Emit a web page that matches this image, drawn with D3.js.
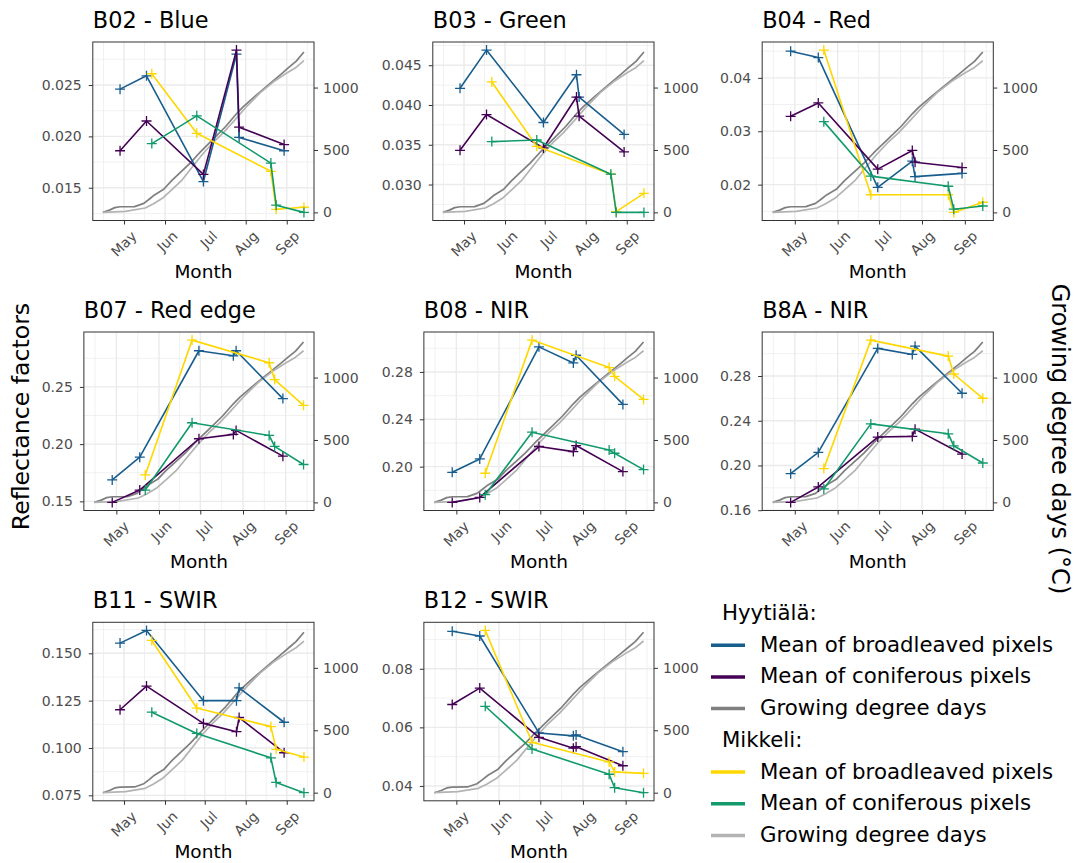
<!DOCTYPE html>
<html>
<head>
<meta charset="utf-8">
<script src="https://cdn.jsdelivr.net/npm/d3@7"></script>
<style>
  body { margin: 0; background: #fff; }
  svg { display: block; font-family: "DejaVu Sans", sans-serif; }
</style>
</head>
<body>
<svg id="chart" width="1076" height="863"></svg>
<script>
// ---- data ----
const bandNames = ["B02 - Blue", "B03 - Green", "B04 - Red", "B07 - Red edge", "B08 - NIR", "B8A - NIR", "B11 - SWIR", "B12 - SWIR"];

const hyyDates = ["04-28", "05-18", "06-30", "07-25", "07-27", "08-30"];
const mikDates = ["05-22", "06-25", "08-20", "08-24", "09-14"];

// Hyytiälä, mean of broadleaved pixels
const hyyBroad = [
    [0.0246, 0.0259, 0.0156, 0.0280, 0.0199, 0.0186],
    [0.0421, 0.0469, 0.0378, 0.0438, 0.0410, 0.0363],
    [0.0450, 0.0438, 0.0195, 0.0244, 0.0215, 0.0221],
    [0.1687, 0.1886, 0.2816, 0.2772, 0.2816, 0.2398],
    [0.1952, 0.2065, 0.3012, 0.2876, 0.2941, 0.2526],
    [0.1927, 0.2117, 0.3047, 0.2993, 0.3067, 0.2646],
    [0.1554, 0.1621, 0.1250, 0.1250, 0.1318, 0.1136],
    [0.0928, 0.0912, 0.0581, 0.0571, 0.0574, 0.0517]
];
// Hyytiälä, mean of coniferous pixels
const hyyConif = [
    [0.0186, 0.0215, 0.0163, 0.0284, 0.0209, 0.0192],
    [0.0343, 0.0388, 0.0346, 0.0410, 0.0386, 0.0341],
    [0.0328, 0.0353, 0.0229, 0.0264, 0.0242, 0.0232],
    [0.1491, 0.1599, 0.2047, 0.2085, 0.2120, 0.1895],
    [0.1698, 0.1740, 0.2170, 0.2127, 0.2178, 0.1958],
    [0.1670, 0.1808, 0.2254, 0.2260, 0.2325, 0.2102],
    [0.1202, 0.1327, 0.1130, 0.1086, 0.1161, 0.0975],
    [0.0678, 0.0734, 0.0566, 0.0529, 0.0534, 0.0469]
];
// Mikkeli, mean of broadleaved pixels
const mikBroad = [
    [0.0261, 0.0203, 0.0166, 0.0129, 0.0131],
    [0.0429, 0.0348, 0.0313, 0.0266, 0.0289],
    [0.0452, 0.0181, 0.0181, 0.0148, 0.0167],
    [0.1731, 0.2909, 0.2711, 0.2564, 0.2339],
    [0.1944, 0.3069, 0.2837, 0.2763, 0.2568],
    [0.1972, 0.3121, 0.2978, 0.2818, 0.2601],
    [0.1568, 0.1211, 0.1113, 0.0993, 0.0952],
    [0.0931, 0.0549, 0.0482, 0.0448, 0.0443]
];
// Mikkeli, mean of coniferous pixels
const mikConif = [
    [0.0193, 0.0220, 0.0174, 0.0133, 0.0126],
    [0.0354, 0.0356, 0.0313, 0.0265, 0.0265],
    [0.0318, 0.0216, 0.0197, 0.0154, 0.0160],
    [0.1599, 0.2187, 0.2076, 0.1980, 0.1822],
    [0.1763, 0.2291, 0.2141, 0.2113, 0.1975],
    [0.1790, 0.2372, 0.2283, 0.2176, 0.2022],
    [0.1189, 0.1077, 0.0948, 0.0818, 0.0764],
    [0.0672, 0.0526, 0.0440, 0.0394, 0.0377]
];

// cumulative growing degree days
const gddDatesH = ["04-15", "04-20", "04-24", "04-28", "05-09", "05-16", "05-20", "05-24", "05-31", "06-06", "06-12", "06-20",
    "06-27", "07-07", "07-17", "07-25", "07-30", "08-09", "08-19", "08-28", "09-03", "09-08", "09-14"];
const gddH = [0, 18, 38, 45, 46, 72, 105, 140, 185, 255, 315, 395, 476, 583, 690, 790, 845, 940, 1030, 1110, 1165, 1210, 1285];
const gddDatesM = ["04-15", "05-02", "05-17", "05-23", "05-30", "06-06", "06-14", "06-21", "06-29", "07-07", "07-15", "07-23",
    "08-02", "08-12", "08-22", "09-01", "09-08", "09-14"];
const gddM = [0, 8, 35, 67, 113, 180, 261, 355, 462, 556, 637, 731, 852, 960, 1046, 1116, 1161, 1215];
const gddScaleMax = 1300;

const monthTicks = ["05-01", "06-01", "07-01", "08-01", "09-01"];
const gddTicks = [0, 500, 1000];
const yTickLabels = [
    ["0.015", "0.020", "0.025"],
    ["0.030", "0.035", "0.040", "0.045"],
    ["0.02", "0.03", "0.04"],
    ["0.15", "0.20", "0.25"],
    ["0.20", "0.24", "0.28"],
    ["0.16", "0.20", "0.24", "0.28"],
    ["0.075", "0.100", "0.125", "0.150"],
    ["0.04", "0.06", "0.08"]
];

const colors = {
    hyyBroad: "#175d8d",
    hyyConif: "#440154",
    hyyGdd: "#7f7f7f",
    mikBroad: "#ffd700",
    mikConif: "#129a6b",
    mikGdd: "#b3b3b3"
};

// ---- layout ----
const colStart = [41.7, 381.7, 720];
const colRight = [314, 654, 993.3];
const rowTop = [42, 332, 622.3];
const panelH = 178.5;

const svg = d3.select("#chart");
const parse = d3.timeParse("%Y-%m-%d");
const toDate = s => parse("2019-" + s);

const allDates = [...gddDatesH, ...gddDatesM, ...hyyDates, ...mikDates].map(toDate);
const [d0, d1] = d3.extent(allDates);
const pad = (d1 - d0) * 0.05;
const xDomain = [new Date(+d0 - pad), new Date(+d1 + pad)];
const monthDates = monthTicks.map(toDate);

function minorBreaks(ticks) {
    const out = [];
    const step0 = ticks[1] - ticks[0];
    const stepN = ticks[ticks.length - 1] - ticks[ticks.length - 2];
    out.push(ticks[0] - step0 / 2);
    for (let i = 0; i < ticks.length - 1; i++) out.push((ticks[i] + ticks[i + 1]) / 2);
    out.push(ticks[ticks.length - 1] + stepN / 2);
    return out;
}

function measure(labels, size) {
    const t = svg.append("text").attr("font-size", size);
    let w = 0;
    labels.forEach(s => { t.text(s); w = Math.max(w, t.node().getComputedTextLength()); });
    t.remove();
    return w;
}

function drawPanel(i) {
    const col = i % 3, row = Math.floor(i / 3);
    const labels = yTickLabels[i];
    const ticks = labels.map(Number);
    const left = colStart[col] + measure(labels, 14) + 11;
    const right = colRight[col];
    const top = rowTop[row], bottom = top + panelH;

    const series = [
        { dates: hyyDates, values: hyyBroad[i], color: colors.hyyBroad },
        { dates: hyyDates, values: hyyConif[i], color: colors.hyyConif },
        { dates: mikDates, values: mikBroad[i], color: colors.mikBroad },
        { dates: mikDates, values: mikConif[i], color: colors.mikConif }
    ];
    const allVals = series.flatMap(s => s.values);
    const [m, M] = d3.extent(allVals);
    const R = M - m;

    const x = d3.scaleTime().domain(xDomain).range([left, right]);
    const y = d3.scaleLinear().domain([m - 0.05 * R, M + 0.05 * R]).range([bottom, top]);
    const yGdd = d3.scaleLinear().domain([0, gddScaleMax]).range([y(m), y(M)]);

    const g = svg.append("g");

    g.append("rect").attr("x", left).attr("y", top).attr("width", right - left).attr("height", bottom - top).attr("fill", "#fff");

    // grid
    const grid = g.append("g").attr("stroke", "#ebebeb").attr("fill", "none");
    const [ylo, yhi] = y.domain();
    minorBreaks(ticks).filter(v => v > ylo && v < yhi).forEach(v => {
        grid.append("line").attr("x1", left).attr("x2", right).attr("y1", y(v)).attr("y2", y(v)).attr("stroke-width", 0.7);
    });
    minorBreaks(monthDates.map(d => +d)).forEach(v => {
        const xv = x(new Date(v));
        if (xv > left && xv < right)
            grid.append("line").attr("y1", top).attr("y2", bottom).attr("x1", xv).attr("x2", xv).attr("stroke-width", 0.7);
    });
    ticks.forEach(v => {
        grid.append("line").attr("x1", left).attr("x2", right).attr("y1", y(v)).attr("y2", y(v)).attr("stroke-width", 1.4);
    });
    monthDates.forEach(d => {
        grid.append("line").attr("y1", top).attr("y2", bottom).attr("x1", x(d)).attr("x2", x(d)).attr("stroke-width", 1.4);
    });

    // growing degree days
    const gddLine = d3.line().x(d => x(d[0])).y(d => yGdd(d[1]));
    g.append("path").attr("d", gddLine(gddDatesH.map((s, k) => [toDate(s), gddH[k]])))
        .attr("fill", "none").attr("stroke", colors.hyyGdd).attr("stroke-width", 1.7).attr("stroke-linejoin", "round");
    g.append("path").attr("d", gddLine(gddDatesM.map((s, k) => [toDate(s), gddM[k]])))
        .attr("fill", "none").attr("stroke", colors.mikGdd).attr("stroke-width", 1.7).attr("stroke-linejoin", "round");

    // reflectance series
    const line = d3.line().x(d => x(d[0])).y(d => y(d[1]));
    series.forEach(s => {
        const pts = s.dates.map((d, k) => [toDate(d), s.values[k]]);
        g.append("path").attr("d", line(pts))
            .attr("fill", "none").attr("stroke", s.color).attr("stroke-width", 1.6).attr("stroke-linejoin", "round");
        pts.forEach(p => {
            const px = x(p[0]), py = y(p[1]);
            const c = d3.path();
            c.moveTo(px - 5, py); c.lineTo(px + 5, py);
            c.moveTo(px, py - 5); c.lineTo(px, py + 5);
            g.append("path").attr("d", c).attr("stroke", s.color).attr("stroke-width", 1.3);
        });
    });

    g.append("rect").attr("x", left).attr("y", top).attr("width", right - left).attr("height", bottom - top)
        .attr("fill", "none").attr("stroke", "#333").attr("stroke-width", 1);

    // axes
    const styleAxis = a => {
        a.select(".domain").remove();
        a.selectAll(".tick line").attr("stroke", "#333");
        a.selectAll(".tick text").attr("fill", "#4d4d4d").attr("font-size", 14).attr("font-family", "DejaVu Sans");
    };
    g.append("g").attr("transform", `translate(${left},0)`)
        .call(d3.axisLeft(y).tickValues(ticks).tickFormat((d, k) => labels[k]).tickSize(4).tickPadding(7))
        .call(styleAxis);
    g.append("g").attr("transform", `translate(${right},0)`)
        .call(d3.axisRight(yGdd).tickValues(gddTicks).tickFormat(d3.format("d")).tickSize(4).tickPadding(5))
        .call(styleAxis);
    const xa = g.append("g").attr("transform", `translate(0,${bottom})`)
        .call(d3.axisBottom(x).tickValues(monthDates).tickFormat(d3.timeFormat("%b")).tickSize(4))
        .call(styleAxis);
    xa.selectAll(".tick text")
        .attr("x", 0).attr("y", 0).attr("dy", "0.71em")
        .attr("text-anchor", "end")
        .attr("transform", "translate(6,9.5) rotate(-45)");

    g.append("text").attr("x", (left + right) / 2).attr("y", bottom + 57)
        .attr("text-anchor", "middle").attr("font-size", 18.5).text("Month");
    g.append("text").attr("x", left).attr("y", top - 14.5)
        .attr("font-size", 22.4).text(bandNames[i]);
}

bandNames.forEach((b, i) => drawPanel(i));

// shared axis titles
svg.append("text").attr("transform", "translate(29,416.5) rotate(-90)")
    .attr("text-anchor", "middle").attr("font-size", 23.6).text("Reflectance factors");
svg.append("text").attr("transform", "translate(1052,439) rotate(90)")
    .attr("text-anchor", "middle").attr("font-size", 24).text("Growing degree days (°C)");

// legend
const legendGroups = [
    { title: "Hyytiälä:", items: [["Mean of broadleaved pixels", colors.hyyBroad], ["Mean of coniferous pixels", colors.hyyConif], ["Growing degree days", colors.hyyGdd]] },
    { title: "Mikkeli:", items: [["Mean of broadleaved pixels", colors.mikBroad], ["Mean of coniferous pixels", colors.mikConif], ["Growing degree days", colors.mikGdd]] }
];
const legend = svg.append("g").attr("font-size", 21.3);
let ly = 620;
legendGroups.forEach(grp => {
    legend.append("text").attr("x", 722).attr("y", ly).text(grp.title);
    grp.items.forEach(it => {
        ly += 31.7;
        legend.append("line").attr("x1", 711).attr("x2", 745).attr("y1", ly - 6.5).attr("y2", ly - 6.5)
            .attr("stroke", it[1]).attr("stroke-width", 3.5);
        legend.append("text").attr("x", 760).attr("y", ly).text(it[0]);
    });
    ly += 31.7;
});
</script>
</body>
</html>
